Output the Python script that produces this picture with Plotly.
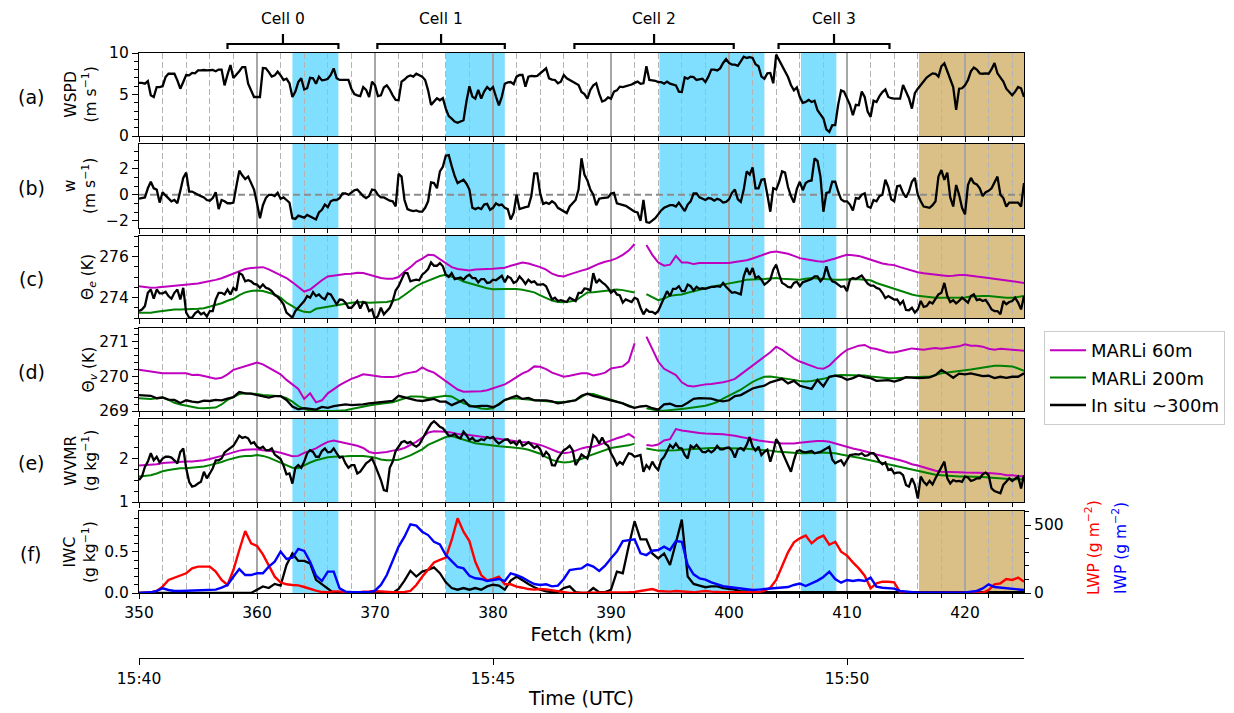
import numpy as np
import plotly.graph_objects as go

# ---------------------------------------------------------------------------
# Along-track sample positions (km): 0.25 km for the fast in-situ records,
# 0.5 km for the lidar retrievals and the remaining in-situ records
fetch_fine = np.round(np.arange(350.0, 425.001, 0.25), 2)
fetch = np.round(np.arange(350.0, 425.01, 0.5), 1)

# (a) horizontal wind speed, m s-1 (0.25 km)
wspd = [6.4, 6.4, 6.3, 6.6, 4.9, 4.7, 5.9, 5.9,
        6.0, 7.1, 7.5, 7.5, 7.5, 6.7, 5.7, 6.5,
        7.35, 7.3, 7.6, 7.55, 7.9, 7.9, 7.95, 7.9,
        7.9, 7.95, 7.8, 8.0, 8.0, 6.1, 7.4, 8.55,
        7.0, 7.35, 7.8, 8.3, 8.3, 6.3, 5.5, 4.7,
        4.7, 4.7, 8.2, 8.15, 7.7, 7.15, 7.3, 7.75,
        7.3, 6.75, 6.9, 6.35, 4.7, 5.35, 6.5, 6.95,
        5.6, 5.75, 7.0, 6.95, 6.3, 7.15, 6.7, 6.75,
        6.9, 7.35, 8.15, 6.95, 6.75, 6.75, 6.8, 6.75,
        5.7, 5.05, 4.9, 4.8, 5.9, 5.55, 4.7, 6.55,
        6.1, 4.8, 4.9, 5.85, 6.1, 5.6, 4.9, 4.35,
        4.3, 6.55, 6.8, 7.15, 7.3, 7.15, 7.5, 7.35,
        7.15, 6.75, 5.5, 3.75, 4.1, 4.55, 4.3, 4.55,
        3.3, 2.4, 2.1, 1.75, 1.6, 1.75, 1.9, 4.15,
        6.0, 4.75, 4.5, 5.55, 4.5, 5.35, 5.9, 5.55,
        5.9, 4.75, 3.7, 4.75, 6.3, 6.45, 6.5, 6.25,
        7.15, 7.35, 7.35, 5.95, 7.15, 7.25, 7.2, 7.25,
        7.55, 7.95, 8.15, 6.95, 6.8, 6.75, 6.35, 6.55,
        7.35, 6.95, 6.75, 6.55, 6.4, 6.15, 5.3, 5.05,
        4.5, 5.55, 6.1, 6.35, 5.1, 4.15, 4.3, 4.65,
        4.5, 5.35, 5.5, 5.95, 5.9, 6.0, 6.1, 6.2,
        6.4, 6.55, 6.3, 6.35, 8.4, 6.75, 6.7, 6.65,
        6.5, 6.5, 6.3, 6.55, 6.3, 6.2, 6.1, 5.35,
        5.3, 7.05, 6.9, 7.15, 7.1, 6.75, 6.8, 6.9,
        6.5, 7.15, 8.0, 8.0, 7.9, 8.15, 8.8, 9.25,
        8.8, 8.6, 8.6, 8.45, 9.0, 9.55, 9.4, 9.5,
        9.4, 8.65, 8.4, 7.15, 6.9, 7.55, 7.6, 6.35,
        9.8, 9.15, 8.4, 7.85, 7.1, 6.15, 5.5, 5.85,
        4.7, 4.0, 4.1, 4.35, 4.1, 4.25, 3.1, 2.6,
        2.1, 0.8, 0.5, 1.3, 1.3, 3.75, 5.5, 5.35,
        4.5, 3.75, 2.5, 3.75, 3.7, 5.35, 4.7, 2.95,
        2.3, 4.25, 4.1, 4.8, 5.3, 5.6, 4.7, 4.55,
        4.5, 4.5, 4.5, 6.15, 5.3, 4.55, 3.3, 5.15,
        5.7, 6.15, 6.7, 7.05, 7.3, 7.55, 7.5, 7.15,
        8.4, 8.75, 7.8, 6.75, 5.9, 3.15, 5.7, 5.75,
        6.1, 6.75, 7.8, 8.25, 8.0, 7.55, 7.5, 7.55,
        7.5, 8.05, 8.8, 7.55, 7.1, 6.55, 5.7, 5.35,
        4.9, 5.35, 5.9, 5.75, 4.7]

# (b) vertical velocity, m s-1 (0.25 km)
w_vert = [-0.3, -0.25, -0.2, 0.5, 1.0, 0.5, 0.4, -0.6,
          0.2, -0.05, -0.25, -0.5, -0.4, -0.65, 0.3, 1.3,
          1.7, 0.25, 0.25, 0.1, 0.0, -0.1, -0.2, -0.4,
          -0.45, -0.25, 0.2, -1.1, -0.4, -0.5, -0.65, -0.65,
          -0.6, 0.65, 1.85, 1.5, 1.2, 1.4, 0.9, 0.4,
          -0.65, -1.8, -0.8, -0.25, 0.0, 0.0, -0.1, 0.15,
          -0.3, -0.2, -0.4, -0.6, -1.8, -1.85, -1.6, -1.65,
          -1.75, -1.55, -1.65, -1.8, -1.9, -1.35, -1.15, -0.75,
          -0.95, -0.5, -0.4, -0.4, -0.25, 0.1, 0.1, 0.0,
          0.2, 0.35, 0.4, 0.15, -0.1, -0.25, -0.1, 0.4,
          0.35, 0.0, -0.2, -0.2, -0.35, -0.45, -0.5, -0.9,
          1.6, 1.4, -0.4, -1.1, -1.2, -1.25, -1.2, -1.3,
          -1.3, -1.0, -0.5, 0.95, 0.9, 0.5, 1.8, 2.15,
          3.0, 3.05, 2.2, 1.45, 0.9, 1.0, 1.15, 0.85,
          0.4, -1.0, -1.1, -1.0, -1.1, -0.75, -0.7, -1.15,
          -1.0, -0.65, -0.8, -0.75, -1.0, -1.1, -1.9, -1.4,
          0.0, -1.1, -1.0, -0.95, -0.9, -0.1, 1.65, 1.65,
          0.1, -0.7, -0.6, -0.7, -0.5, -0.65, -1.0, -1.15,
          -1.3, -1.4, -0.9, -0.65, -0.4, 0.4, 2.8, 1.55,
          1.1, 0.4, 0.0, -0.8, -0.3, -0.25, -0.25, -0.2,
          0.1, 0.15, -0.65, -0.7, -0.8, -0.85, -1.0, -1.15,
          -1.3, -1.35, -2.0, -0.4, -2.1, -2.15, -2.0, -1.8,
          -1.5, -1.2, -1.0, -0.9, -0.8, -0.8, -0.9, -0.6,
          -0.9, -1.25, -0.75, -0.5, 0.1, 0.1, -0.2, -0.3,
          -0.4, -0.25, -0.3, -0.45, -0.3, -0.4, -0.6, -0.55,
          -0.35, 0.15, 0.4, -0.35, -0.55, 0.4, 1.8, 1.55,
          2.1, 0.5, 0.5, 1.15, 1.2, 0.0, -1.3, 0.5,
          0.4, 1.0, 1.8, 1.7, 0.6, -0.1, -0.6, 0.45,
          1.0, 0.35, 0.9, 1.05, 1.1, 2.8, 2.6, 1.4,
          -1.3, 0.15, 0.2, 1.0, 1.0, 0.25, -0.35, -0.5,
          -0.5, -0.75, -1.2, -0.25, -0.3, 0.0, 0.1, -0.9,
          -1.0, -0.4, -0.5, -0.1, 0.0, 1.15, 0.6, -0.35,
          -0.5, 0.65, 0.7, 0.15, -0.2, 0.25, 1.0, 1.3,
          0.0, -0.5, -0.9, -0.95, -1.0, -0.8, -0.5, 1.4,
          1.9, 1.15, 1.7, -0.2, -0.9, 0.75, 0.0, -1.0,
          -1.5, 0.75, 1.3, 0.9, 0.8, 0.5, -0.1, 0.2,
          0.3, 0.5, 1.0, 1.4, 0.0, -0.25, -0.9, -0.6,
          -0.6, -0.6, -0.6, -0.9, 0.9]

# (c) equivalent potential temperature, K
theta_e_60 = [274.55, 274.50, 274.47, 274.49, 274.52, 274.53, 274.57, 274.58, 274.62, 274.65,
              274.68, 274.74, 274.79, 274.86, 274.94, 275.05, 275.18, 275.29, 275.39, 275.44,
              275.47, 275.48, 275.37, 275.24, 275.11, 274.95, 274.74, 274.52, 274.29, 274.39,
              274.63, 274.84, 275.03, 275.08, 275.11, 275.15, 275.16, 275.21, 275.19, 275.10,
              275.03, 274.95, 274.92, 274.92, 275.00, 275.27, 275.48, 275.74, 275.90, 276.08,
              276.06, 275.87, 275.68, 275.48, 275.39, 275.34, 275.32, 275.36, 275.36, 275.39,
              275.40, 275.42, 275.45, 275.55, 275.63, 275.71, 275.66, 275.58, 275.48, 275.36,
              275.16, 275.06, 275.03, 275.13, 275.23, 275.31, 275.39, 275.52, 275.65, 275.74,
              275.81, 275.92, 276.08, 276.29, 276.61, None, 276.56, 276.08, 275.71, 275.55,
              275.60, 276.03, 275.71, 275.71, 275.63, 275.68, 275.68, 275.68, 275.68, 275.71,
              275.68, 275.73, 275.77, 275.82, 275.90, 276.00, 276.11, 276.21, 276.24, 276.19,
              276.13, 276.03, 275.92, 275.87, 275.81, 275.77, 275.74, 275.81, 275.90, 276.00,
              276.08, 276.06, 276.03, 275.94, 275.84, 275.73, 275.66, 275.61, 275.58, 275.48,
              275.39, 275.29, 275.23, 275.18, 275.15, 275.11, 275.08, 275.05, 275.06, 275.10,
              275.10, 275.05, 275.02, 274.99, 274.95, 274.90, 274.87, 274.82, 274.78, 274.74,
              274.71]
theta_e_200 = [273.26, 273.26, 273.26, 273.30, 273.34, 273.38, 273.42, 273.42, 273.42, 273.43,
               273.45, 273.48, 273.55, 273.63, 273.72, 273.84, 273.94, 274.12, 274.25, 274.32,
               274.34, 274.32, 274.23, 274.15, 274.00, 273.75, 273.58, 273.40, 273.30, 273.28,
               273.45, 273.50, 273.55, 273.60, 273.66, 273.71, 273.74, 273.77, 273.78, 273.75,
               273.75, 273.76, 273.78, 273.84, 273.92, 274.12, 274.35, 274.55, 274.70, 274.82,
               274.95, 275.05, 275.11, 275.02, 274.92, 274.78, 274.70, 274.60, 274.52, 274.45,
               274.40, 274.39, 274.41, 274.42, 274.42, 274.38, 274.33, 274.25, 274.10, 273.98,
               273.85, 273.78, 273.77, 273.80, 273.85, 274.05, 274.25, 274.26, 274.29, 274.33,
               274.37, 274.39, 274.36, 274.31, 274.24, None, 274.16, 274.00, 273.87, 273.95,
               274.08, 274.12, 274.15, 274.23, 274.31, 274.37, 274.44, 274.52, 274.58, 274.63,
               274.68, 274.74, 274.79, 274.87, 274.87, 274.87, 274.90, 274.93, 274.95, 274.92,
               274.90, 274.89, 274.87, 274.92, 274.95, 274.93, 274.90, 274.89, 274.87, 274.87,
               274.90, 274.90, 274.89, 274.87, 274.84, 274.71, 274.61, 274.53, 274.45, 274.34,
               274.24, 274.15, 274.08, 274.04, 274.00, 273.99, 273.99, 273.99, 273.99, 273.99,
               274.00, 274.05, 274.07, 274.07, 274.07, 274.04, 274.00, 273.99, 273.99, 274.02,
               274.07]
# in situ (0.25 km)
theta_e_insitu = [273.34, 273.41, 273.58, 274.23, 274.39, 273.94, 274.39, 274.2,
                  274.2, 274.28, 274.07, 273.94, 274.23, 274.39, 273.9, 274.47,
                  273.26, 273.02, 273.02, 273.23, 273.34, 273.18, 273.26, 273.07,
                  273.34, 273.34, 273.9, 274.23, 274.23, 274.15, 274.39, 274.15,
                  274.47, 274.34, 275.19, 275.11, 274.79, 274.84, 274.79, 274.66,
                  274.63, 274.47, 274.63, 274.47, 274.42, 274.31, 274.12, 274.03,
                  273.87, 273.67, 273.26, 273.13, 273.02, 273.34, 273.5, 273.62,
                  273.83, 274.07, 273.99, 274.26, 274.07, 274.15, 273.99, 273.91,
                  274.2, 274.15, 273.9, 273.67, 273.9, 273.88, 273.75, 273.5,
                  273.5, 273.67, 273.83, 273.46, 273.78, 273.71, 273.34, 273.42,
                  272.94, 273.1, 273.5, 273.18, 273.34, 273.5, 273.83, 274.34,
                  274.55, 274.87, 275.19, 275.19, 274.79, 274.84, 274.87, 274.84,
                  275.11, 275.23, 275.39, 275.71, 275.55, 275.55, 275.68, 275.52,
                  275.11, 275.0, 275.19, 274.9, 274.95, 274.97, 274.87, 275.03,
                  275.11, 274.95, 274.95, 274.74, 274.9, 274.9, 274.71, 274.74,
                  274.87, 274.84, 274.95, 275.06, 274.74, 275.03, 274.95, 274.71,
                  274.79, 275.03, 274.87, 274.66, 274.87, 274.74, 274.79, 274.63,
                  274.63, 274.65, 274.55, 274.23, 273.9, 273.99, 273.83, 273.87,
                  273.83, 273.78, 273.99, 273.91, 273.83, 274.23, 274.23, 274.44,
                  274.42, 274.34, 275.19, 274.71, 274.87, 274.74, 274.63, 274.47,
                  274.23, 274.36, 274.15, 274.1, 273.75, 273.91, 273.83, 273.78,
                  273.99, 273.91, 273.5, 273.18, 273.42, 273.3, 273.3, 273.21,
                  273.34, 273.67, 273.99, 274.31, 274.07, 274.42, 274.42, 274.55,
                  274.31, 274.31, 274.63, 274.55, 274.34, 274.52, 274.42, 274.45,
                  274.42, 274.47, 274.52, 274.52, 274.55, 274.52, 274.71, 274.52,
                  274.39, 274.23, 274.26, 274.2, 274.15, 275.03, 275.44, 275.11,
                  275.44, 274.95, 275.03, 274.87, 274.63, 274.74, 274.87, 275.36,
                  275.6, 275.11, 274.71, 274.63, 274.52, 274.49, 274.71, 274.77,
                  274.55, 274.74, 274.79, 274.87, 274.9, 275.03, 275.03, 274.79,
                  274.95, 275.52, 275.03, 274.79, 274.74, 274.63, 274.52, 274.55,
                  274.31, 274.87, 274.95, 274.9, 275.0, 275.07, 274.87, 274.68,
                  274.58, 274.58, 274.47, 274.42, 274.23, 273.97, 274.07, 273.99,
                  273.9, 273.91, 273.67, 273.83, 273.39, 273.38, 273.5, 273.26,
                  273.42, 273.83, 273.54, 273.58, 273.78, 273.71, 273.9, 274.15,
                  274.23, 274.71, 274.07, 273.78, 273.87, 273.71, 273.83, 273.99,
                  273.87, 273.75, 274.07, 274.15, 273.87, 273.91, 273.83, 273.88,
                  273.67, 273.42, 273.34, 273.34, 273.18, 273.83, 273.67, 273.78,
                  273.83, 273.99, 273.75, 273.42, 274.07]

# (d) virtual potential temperature, K
theta_v_60 = [270.19, 270.16, 270.14, 270.12, 270.09, 270.09, 270.09, 270.10, 270.09, 270.04,
              270.05, 270.01, 269.98, 269.93, 269.96, 270.06, 270.19, 270.24, 270.30, 270.33,
              270.40, 270.35, 270.26, 270.16, 270.06, 269.90, 269.77, 269.64, 269.35, 269.51,
              269.25, 269.31, 269.51, 269.64, 269.75, 269.84, 269.93, 269.99, 270.06, 270.04,
              270.01, 269.99, 269.98, 269.98, 270.01, 270.08, 270.11, 270.14, 270.26, 270.17,
              270.11, 269.99, 269.85, 269.73, 269.62, 269.56, 269.56, 269.56, 269.57, 269.60,
              269.66, 269.70, 269.77, 269.87, 269.99, 270.09, 270.16, 270.29, 270.28, 270.21,
              270.11, 270.04, 269.99, 270.02, 270.06, 270.09, 270.09, 270.03, 270.06, 270.11,
              270.23, 270.25, 270.29, 270.43, 270.96, None, 271.15, 270.77, 270.43, 270.22,
              270.12, 270.04, 269.83, 269.73, 269.71, 269.75, 269.77, 269.78, 269.80, 269.83,
              269.87, 269.93, 270.06, 270.19, 270.31, 270.45, 270.57, 270.70, 270.86, 270.77,
              270.64, 270.52, 270.43, 270.36, 270.30, 270.24, 270.22, 270.31, 270.48, 270.64,
              270.77, 270.82, 270.89, 270.91, 270.82, 270.79, 270.75, 270.69, 270.69, 270.74,
              270.77, 270.81, 270.80, 270.77, 270.80, 270.82, 270.80, 270.82, 270.84, 270.87,
              270.93, 270.89, 270.89, 270.86, 270.80, 270.77, 270.80, 270.79, 270.77, 270.76,
              270.74]
theta_v_200 = [269.37, 269.36, 269.35, 269.37, 269.39, 269.32, 269.24, 269.19, 269.15, 269.12,
               269.09, 269.08, 269.08, 269.10, 269.19, 269.32, 269.40, 269.49, 269.51, 269.51,
               269.49, 269.46, 269.45, 269.44, 269.43, 269.37, 269.27, 269.14, 269.06, 269.01,
               269.00, 269.00, 269.00, 269.00, 269.00, 269.02, 269.06, 269.10, 269.13, 269.16,
               269.19, 269.21, 269.22, 269.25, 269.31, 269.37, 269.42, 269.42, 269.41, 269.37,
               269.39, 269.42, 269.44, 269.42, 269.32, 269.22, 269.17, 269.12, 269.07, 269.06,
               269.08, 269.21, 269.32, 269.36, 269.37, 269.35, 269.33, 269.31, 269.30, 269.28,
               269.27, 269.26, 269.25, 269.28, 269.31, 269.41, 269.50, 269.49, 269.44, 269.39,
               269.33, 269.29, 269.22, 269.16, 269.09, None, 269.08, 269.04, 269.01, 269.01,
               269.02, 269.04, 269.06, 269.08, 269.10, 269.13, 269.15, 269.20, 269.26, 269.36,
               269.44, 269.54, 269.62, 269.73, 269.84, 269.92, 269.99, 270.00, 269.98, 269.95,
               269.92, 269.90, 269.87, 269.85, 269.87, 269.89, 269.93, 269.98, 270.03, 270.04,
               270.04, 270.04, 270.04, 270.03, 270.00, 269.98, 269.96, 269.95, 269.95, 269.96,
               269.98, 269.98, 269.99, 269.99, 269.99, 270.04, 270.09, 270.11, 270.14, 270.16,
               270.18, 270.20, 270.23, 270.25, 270.28, 270.31, 270.31, 270.31, 270.29, 270.23,
               270.16]
theta_v_insitu = [269.46, 269.46, 269.44, 269.37, 269.39, 269.33, 269.32, 269.23, 269.31, 269.27,
                  269.25, 269.30, 269.29, 269.32, 269.31, 269.36, 269.40, 269.55, 269.51, 269.50,
                  269.46, 269.42, 269.39, 269.43, 269.43, 269.32, 269.13, 269.05, 269.08, 269.06,
                  269.04, 269.12, 269.09, 269.14, 269.17, 269.19, 269.17, 269.17, 269.19, 269.22,
                  269.24, 269.25, 269.26, 269.29, 269.44, 269.39, 269.35, 269.31, 269.29, 269.32,
                  269.35, 269.27, 269.27, 269.17, 269.25, 269.32, 269.14, 269.13, 269.15, 269.15,
                  269.11, 269.19, 269.32, 269.39, 269.44, 269.35, 269.38, 269.31, 269.31, 269.31,
                  269.28, 269.22, 269.25, 269.27, 269.31, 269.44, 269.50, 269.44, 269.40, 269.36,
                  269.30, 269.26, 269.22, 269.14, 269.09, 269.13, 269.15, 269.08, 269.04, 269.19,
                  269.21, 269.14, 269.14, 269.24, 269.35, 269.37, 269.37, 269.36, 269.31, 269.28,
                  269.31, 269.43, 269.46, 269.56, 269.65, 269.70, 269.73, 269.83, 269.88, 269.93,
                  269.80, 269.87, 269.73, 269.68, 269.64, 269.90, 269.71, 269.99, 270.02, 269.99,
                  269.90, 269.95, 270.03, 269.98, 269.95, 269.87, 269.87, 269.89, 269.85, 269.90,
                  269.98, 269.96, 269.95, 269.96, 269.97, 270.04, 270.19, 270.08, 269.96, 270.08,
                  270.06, 270.09, 270.04, 270.01, 270.02, 269.95, 269.99, 269.96, 269.99, 269.99,
                  270.09]

# (e) water vapour mixing ratio, g kg-1
wvmr_60 = [1.83, 1.84, 1.86, 1.86, 1.89, 1.90, 1.91, 1.92, 1.92, 1.92,
           1.93, 1.95, 1.98, 2.01, 2.05, 2.09, 2.13, 2.17, 2.19, 2.20,
           2.20, 2.18, 2.17, 2.15, 2.12, 2.08, 2.04, 2.05, 2.12, 2.17,
           2.22, 2.30, 2.37, 2.40, 2.37, 2.34, 2.31, 2.28, 2.23, 2.14,
           2.11, 2.12, 2.14, 2.17, 2.19, 2.23, 2.30, 2.37, 2.47, 2.58,
           2.61, 2.61, 2.60, 2.58, 2.55, 2.54, 2.52, 2.51, 2.49, 2.47,
           2.45, 2.44, 2.42, 2.40, 2.37, 2.36, 2.36, 2.33, 2.30, 2.25,
           2.20, 2.14, 2.11, 2.13, 2.17, 2.22, 2.25, 2.26, 2.30, 2.35,
           2.41, 2.45, 2.49, 2.55, 2.46, None, 2.30, 2.28, 2.31, 2.40,
           2.43, 2.66, 2.63, 2.61, 2.58, 2.57, 2.56, 2.56, 2.55, 2.54,
           2.53, 2.51, 2.48, 2.46, 2.43, 2.40, 2.38, 2.36, 2.34, 2.33,
           2.33, 2.33, 2.35, 2.37, 2.38, 2.39, 2.39, 2.37, 2.33, 2.30,
           2.26, 2.22, 2.19, 2.16, 2.12, 2.08, 2.05, 2.02, 1.98, 1.95,
           1.91, 1.86, 1.83, 1.79, 1.75, 1.71, 1.69, 1.69, 1.69, 1.68,
           1.67, 1.67, 1.67, 1.67, 1.66, 1.65, 1.64, 1.61, 1.61, 1.59,
           1.58]
wvmr_200 = [1.58, 1.59, 1.61, 1.65, 1.70, 1.73, 1.75, 1.77, 1.77, 1.78,
            1.79, 1.81, 1.84, 1.87, 1.91, 1.96, 2.00, 2.03, 2.05, 2.05,
            2.07, 2.05, 2.01, 1.95, 1.89, 1.83, 1.78, 1.77, 1.84, 1.90,
            1.95, 1.99, 2.02, 2.03, 2.03, 2.04, 2.05, 2.05, 2.05, 2.03,
            2.01, 1.97, 1.95, 1.95, 1.96, 2.01, 2.06, 2.13, 2.20, 2.30,
            2.36, 2.43, 2.48, 2.50, 2.46, 2.41, 2.37, 2.34, 2.32, 2.30,
            2.28, 2.27, 2.26, 2.25, 2.23, 2.22, 2.19, 2.15, 2.10, 2.02,
            1.96, 1.92, 1.90, 1.91, 1.94, 1.98, 2.04, 2.09, 2.14, 2.19,
            2.23, 2.25, 2.27, 2.29, 2.33, None, 2.22, 2.19, 2.17, 2.17,
            2.17, 2.18, 2.19, 2.20, 2.21, 2.22, 2.23, 2.23, 2.23, 2.23,
            2.22, 2.22, 2.22, 2.21, 2.20, 2.20, 2.18, 2.17, 2.15, 2.14,
            2.12, 2.11, 2.11, 2.11, 2.11, 2.12, 2.13, 2.12, 2.11, 2.08,
            2.05, 2.03, 2.01, 1.98, 1.95, 1.91, 1.88, 1.85, 1.83, 1.80,
            1.77, 1.73, 1.70, 1.67, 1.64, 1.62, 1.61, 1.60, 1.58, 1.58,
            1.58, 1.58, 1.58, 1.57, 1.56, 1.55, 1.54, 1.52, 1.52, 1.52,
            1.52]
# in situ (0.25 km)
wvmr_insitu = [1.50, 1.58, 1.80, 1.92, 2.11, 1.95, 2.03, 1.90,
               1.99, 2.03, 2.03, 2.01, 1.95, 1.88, 2.14, 2.22,
               1.77, 1.46, 1.35, 1.37, 1.42, 1.46, 1.69, 1.54,
               1.65, 1.77, 1.95, 1.95, 1.99, 2.13, 2.18, 2.22,
               2.28, 2.39, 2.51, 2.46, 2.48, 2.45, 2.33, 2.36,
               2.26, 2.22, 2.26, 2.18, 2.18, 2.22, 2.08, 2.03,
               1.98, 1.83, 1.63, 1.65, 1.42, 1.78, 1.84, 1.78,
               1.92, 2.11, 2.18, 2.14, 2.03, 2.03, 2.16, 2.22,
               2.13, 2.14, 2.22, 2.11, 2.01, 2.03, 1.88, 1.78,
               1.84, 1.84, 1.65, 1.69, 1.80, 1.88, 1.93, 1.99,
               1.84, 1.67, 1.50, 1.27, 1.25, 1.78, 1.92, 2.16,
               2.25, 2.36, 2.39, 2.34, 2.37, 2.30, 2.26, 2.31,
               2.43, 2.56, 2.67, 2.78, 2.84, 2.78, 2.71, 2.68,
               2.60, 2.51, 2.51, 2.55, 2.48, 2.45, 2.60, 2.52,
               2.41, 2.46, 2.39, 2.39, 2.43, 2.41, 2.48, 2.45,
               2.48, 2.39, 2.33, 2.37, 2.42, 2.43, 2.34, 2.37,
               2.30, 2.41, 2.28, 2.31, 2.36, 2.30, 2.23, 2.28,
               2.20, 2.03, 2.14, 2.07, 1.84, 1.83, 1.99, 2.09,
               2.18, 2.22, 2.28, 2.18, 1.84, 1.95, 2.08, 2.03,
               1.99, 2.22, 2.52, 2.46, 2.33, 2.47, 2.33, 2.28,
               2.11, 1.99, 1.84, 1.91, 1.86, 1.99, 2.11, 2.09,
               2.03, 2.05, 2.07, 1.69, 1.84, 1.76, 1.92, 1.80,
               1.73, 1.95, 2.03, 2.16, 2.30, 2.23, 2.33, 2.23,
               2.22, 2.07, 1.99, 2.28, 2.23, 2.30, 2.22, 2.14,
               2.13, 2.18, 2.13, 2.18, 2.28, 2.20, 2.20, 2.23,
               2.24, 2.17, 2.01, 2.20, 2.23, 2.18, 2.30, 2.48,
               2.26, 2.17, 2.26, 2.07, 2.14, 2.19, 1.92, 2.14,
               2.43, 2.33, 2.14, 1.99, 1.84, 1.69, 1.95, 2.16,
               2.18, 2.14, 2.13, 2.14, 2.16, 2.11, 2.13, 2.14,
               2.18, 2.23, 2.26, 1.97, 1.88, 1.92, 1.95, 1.84,
               1.95, 2.07, 2.08, 2.09, 2.08, 2.11, 2.05, 2.06,
               2.11, 2.11, 2.03, 1.92, 1.86, 1.90, 1.73, 1.76,
               1.65, 1.67, 1.67, 1.61, 1.39, 1.35, 1.54, 1.39,
               1.08, 1.58, 1.46, 1.39, 1.48, 1.40, 1.54, 1.67,
               1.77, 1.92, 1.54, 1.42, 1.50, 1.47, 1.48, 1.46,
               1.58, 1.56, 1.48, 1.50, 1.54, 1.54, 1.63, 1.67,
               1.61, 1.31, 1.25, 1.23, 1.20, 1.39, 1.46, 1.54,
               1.48, 1.54, 1.58, 1.31, 1.61]

# (f) in-situ ice water content (g kg-1) and remote liquid / ice water paths (g m-2)
iwc_insitu = [0, 0, 0, 0, 0, 0, 0, 0, 0, 0,
              0, 0, 0, 0, 0, 0, 0, 0, 0, 0,
              0.04, 0.08, 0.06, 0.11, 0.09, 0.34, 0.48, 0.39, 0.39, 0.36,
              0.16, 0.11, 0.05, 0, 0, 0, 0, 0, 0, 0,
              0, 0, 0, 0, 0.05, 0.15, 0.27, 0.20, 0.26, 0.28,
              0.31, 0.24, 0.13, 0.06, 0.04, 0.06, 0.04, 0.06, 0.04, 0.08,
              0.10, 0.09, 0.04, 0.15, 0.20, 0.15, 0.11, 0.07, 0.04, 0.02,
              0.01, 0.01, 0.06, 0.08, 0.01, 0, 0, 0.06, 0.01, 0.01,
              0.04, 0.26, 0.24, 0.57, 0.87, 0.65, 0.65, 0.48, 0.42, 0.48,
              0.34, 0.61, 0.89, 0.20, 0.11, 0.09, 0.07, 0.08, 0.08, 0.06,
              0.05, 0.04, 0.02, 0.02, 0.01, 0.01, 0.01, 0.01, 0.01, 0.01,
              0.01, 0.01, 0.01, 0.01, 0.01, 0.01, 0.01, 0.01, 0.01, 0.01,
              0.01, 0.01, 0.01, 0.01, 0.01, 0.01, 0.01, 0.01, 0.01, 0.01,
              0.01, 0.01, 0.01, 0.01, 0.01, 0.01, 0.01, 0.01, 0.01, 0.01,
              0.01, 0.01, 0.01, 0.01, 0.01, 0.01, 0.01, 0.01, 0.01, 0.01,
              0.01]
lwp = [0, 0, 5, 15, 47, 96, 113, 127, 145, 181,
       194, 194, 194, 157, 96, 59, 169, 316, 456, 365,
       346, 284, 206, 120, 78, 64, 59, 56, 44, 29,
       17, 7, 5, 12, 12, 5, 0, 2, 10, 12,
       15, 12, 7, 5, 5, 7, 15, 59, 120, 169,
       225, 243, 260, 390, 549, 451, 382, 230, 132, 93,
       103, 120, 64, 64, 47, 39, 29, 25, 29, 27,
       20, 10, 5, 0, 0, 0, 0, 2, 2, 5,
       5, 5, 5, 5, 7, 15, 25, 29, 15, 12,
       10, 15, 12, 7, 5, 10, 15, 10, 5, 5,
       5, 5, 2, 2, 5, 5, 17, 39, 96, 194,
       299, 373, 402, 422, 365, 402, 422, 355, 377, 304,
       275, 225, 181, 127, 34, 71, 83, 83, 78, 5,
       2, 0, 0, 0, 0, 0, 0, 0, 0, 0,
       0, 0, 0, 2, 22, 64, 71, 103, 96, 113,
       83]
iwp = [0, 2, 5, 15, 34, 22, 15, 15, 17, 20,
       22, 22, 25, 25, 39, 59, 120, 176, 132, 132,
       145, 145, 194, 230, 304, 250, 260, 324, 309, 230,
       127, 88, 157, 157, 34, 10, 7, 5, 5, 5,
       17, 59, 132, 230, 341, 414, 505, 495, 451, 426,
       377, 358, 279, 235, 191, 181, 127, 108, 103, 88,
       93, 103, 88, 145, 132, 113, 88, 66, 59, 64,
       49, 54, 103, 169, 176, 181, 211, 194, 162, 201,
       255, 304, 382, 390, 395, 292, 279, 311, 316, 341,
       316, 382, 377, 206, 137, 108, 98, 78, 64, 51,
       44, 39, 34, 29, 22, 25, 29, 32, 34, 39,
       44, 59, 69, 51, 71, 91, 118, 157, 103, 76,
       96, 88, 96, 88, 113, 47, 39, 34, 32, 15,
       10, 5, 2, 2, 2, 2, 2, 2, 2, 2,
       2, 10, 15, 34, 64, 44, 39, 34, 29, 22,
       22]

# Cloud cells (start, end in km), sampled cloud segments and the clear reference leg
cell_names = ["Cell 0", "Cell 1", "Cell 2", "Cell 3"]
cell_start = [357.5, 370.2, 386.9, 404.2]
cell_end = [366.9, 381.0, 400.4, 413.6]
cloud_start = [363.0, 376.0, 394.1, 406.1]
cloud_end = [366.9, 381.0, 403.0, 409.1]
clear_start, clear_end = 416.1, 425.0

# Secondary time axis (UTC) labelled at the matching fetch
time_tick_km = [350, 380, 410]
time_tick_text = ["15:40", "15:45", "15:50"]

# ---------------------------------------------------------------------------
W, H = 1234, 713
FONT = "DejaVu Sans"
MAG, GRN, BLK = "#bf00bf", "#008000", "black"
CLOUD_FILL = "rgb(128,223,255)"
CLEAR_FILL = "rgb(218,192,134)"


def px_x(p):
    return p / W


def px_y(p):
    return 1 - p / H


x_dom = [px_x(139), px_x(1024)]
panels = [(53, 136), (144, 228), (236, 318), (328, 411), (419, 502), (511, 593)]

fig = go.Figure()


def line(x, y, color, n, width=2.2, name=None, legend=False, yaxis=None, dash=None):
    fig.add_trace(go.Scatter(
        x=x, y=y, mode="lines", name=name, showlegend=legend,
        legendgroup=name if legend else None,
        line=dict(color=color, width=width, dash=dash),
        xaxis="x" if n == 1 else f"x{n}",
        yaxis=yaxis or ("y" if n == 1 else f"y{n}"),
        connectgaps=False, hoverinfo="skip"))


line(fetch_fine, wspd, BLK, 1, 2.3)
# dashed zero reference for vertical velocity, drawn under the data
line([fetch[0], fetch[-1]], [0, 0], "#8c8c8c", 2, 2.0, dash="7px,4px")
line(fetch_fine, w_vert, BLK, 2, 2.3)
line(fetch, theta_e_60, MAG, 3, 2.0, "MARLi 60m", True)
line(fetch, theta_e_200, GRN, 3, 2.0, "MARLi 200m", True)
line(fetch_fine, theta_e_insitu, BLK, 3, 2.3, "In situ ~300m", True)
line(fetch, theta_v_60, MAG, 4, 2.0)
line(fetch, theta_v_200, GRN, 4, 2.0)
line(fetch, theta_v_insitu, BLK, 4, 2.3)
line(fetch, wvmr_60, MAG, 5, 2.0)
line(fetch, wvmr_200, GRN, 5, 2.0)
line(fetch_fine, wvmr_insitu, BLK, 5, 2.3)
line(fetch, iwc_insitu, BLK, 6, 2.3)
line(fetch, lwp, "red", 6, 2.4, yaxis="y7")
line(fetch, iwp, "blue", 6, 2.4, yaxis="y7")

# empty trace that carries the UTC time axis
fig.add_trace(go.Scatter(x=[time_tick_km[0]], y=[None], xaxis="x7", yaxis="y6",
                         showlegend=False, hoverinfo="skip"))

y_specs = [
    dict(range=[0, 10], dtick=5, tick0=0, minor=1, fmt=None),
    dict(range=[-2.55, 3.9], dtick=2, tick0=0, minor=2 / 3, fmt=None),
    dict(range=[273, 277], dtick=2, tick0=274, minor=0.5, fmt=None),
    dict(range=[269, 271.4], dtick=1, tick0=269, minor=0.2, fmt=None),
    dict(range=[1, 2.89], dtick=1, tick0=1, minor=0.25, fmt=None),
    dict(range=[0, 0.995], dtick=0.5, tick0=0, minor=0.1, fmt=".1f"),
]
y_titles = ["WSPD<br>(m s<sup>−1</sup>)", "w<br>(m s<sup>−1</sup>)",
            "Θ<sub><i>e</i></sub> (K)", "Θ<sub><i>v</i></sub> (K)",
            "WVMR<br>(g kg<sup>−1</sup>)", "IWC<br>(g kg<sup>−1</sup>)"]
tags = ["(a)", "(b)", "(c)", "(d)", "(e)", "(f)"]

layout = dict(
    width=W, height=H, margin=dict(l=0, r=0, t=0, b=0, autoexpand=False),
    paper_bgcolor="white", plot_bgcolor="white",
    font=dict(family=FONT, size=15.5, color="black"),
    showlegend=True,
    legend=dict(x=px_x(1044), y=px_y(331), xanchor="left", yanchor="top",
                bordercolor="#cccccc", borderwidth=1, bgcolor="white",
                font=dict(size=18), tracegroupgap=1, itemwidth=36),
)

shapes, annotations = [], []
for i, (top, bot) in enumerate(panels):
    n = i + 1
    xs = "" if n == 1 else str(n)
    spec = y_specs[i]
    layout[f"xaxis{xs}"] = dict(
        domain=x_dom, range=[350, 425], anchor=f"y{xs}",
        showline=True, mirror=True, linecolor="black", linewidth=1.2,
        ticks="outside", ticklen=5, tickwidth=1.2, tickcolor="black",
        dtick=10, tick0=350, showticklabels=(n == 6),
        showgrid=True, gridcolor="#a6a6a6", gridwidth=1.6, zeroline=False,
        minor=dict(dtick=2, tick0=350, ticks="outside", ticklen=4, tickcolor="black",
                   showgrid=True, gridcolor="#b4b4b4", gridwidth=1.2, griddash="6px,3px"),
        title=dict(text="Fetch (km)", standoff=6) if n == 6 else None,
    )
    layout[f"yaxis{xs}"] = dict(
        domain=[px_y(bot), px_y(top)], range=spec["range"], anchor=f"x{xs}",
        showline=True, mirror=True, linecolor="black", linewidth=1.2,
        ticks="outside", ticklen=6, tickwidth=1.2, tickcolor="black",
        dtick=spec["dtick"], tick0=spec["tick0"], tickformat=spec["fmt"],
        minor=dict(dtick=spec["minor"], tick0=spec["tick0"], ticks="outside",
                   ticklen=3.5, tickcolor="black"),
        showgrid=False, zeroline=False,
    )
    for a, b in zip(cloud_start, cloud_end):
        shapes.append(dict(type="rect", xref=f"x{xs}", yref=f"y{xs} domain",
                           x0=a, x1=b, y0=0, y1=1, fillcolor=CLOUD_FILL,
                           line=dict(width=0), layer="below"))
    shapes.append(dict(type="rect", xref=f"x{xs}", yref=f"y{xs} domain",
                       x0=clear_start, x1=clear_end, y0=0, y1=1,
                       fillcolor=CLEAR_FILL, line=dict(width=0), layer="below"))
    yc = px_y((top + bot) / 2)
    annotations.append(dict(text=tags[i], x=px_x(31), y=px_y((top + bot) / 2 + 2),
                            xref="paper", yref="paper", showarrow=False,
                            font=dict(size=19), xanchor="center", yanchor="middle"))
    annotations.append(dict(text=y_titles[i], x=px_x(101), y=yc, xref="paper", yref="paper",
                            showarrow=False, textangle=-90, xanchor="right",
                            yanchor="middle", font=dict(size=15.5)))

# right-hand axis for the water paths
layout["yaxis7"] = dict(
    overlaying="y6", side="right", anchor="x6", range=[0, 603],
    dtick=500, tick0=0, ticks="outside", ticklen=6, tickwidth=1.2, tickcolor="black",
    minor=dict(dtick=100, tick0=0, ticks="outside", ticklen=3.5, tickcolor="black"),
    showline=False, showgrid=False, zeroline=False,
)
annotations.append(dict(text="LWP (g m<sup>−2</sup>)", x=px_x(1092), y=px_y(548),
                        xref="paper", yref="paper", showarrow=False, textangle=-90,
                        font=dict(size=15.5, color="red"), xanchor="center", yanchor="middle"))
annotations.append(dict(text="IWP (g m<sup>−2</sup>)", x=px_x(1119), y=px_y(548),
                        xref="paper", yref="paper", showarrow=False, textangle=-90,
                        font=dict(size=15.5, color="blue"), xanchor="center", yanchor="middle"))

# UTC time axis below the fetch axis
layout["xaxis7"] = dict(
    overlaying="x6", anchor="free", position=px_y(658), side="bottom",
    range=[350, 425], tickmode="array", tickvals=time_tick_km, ticktext=time_tick_text,
    showline=True, linecolor="black", linewidth=1.2,
    ticks="outside", ticklen=6, tickwidth=1.2, tickcolor="black",
    showgrid=False, zeroline=False,
    title=dict(text="Time (UTC)", standoff=4),
)

# brackets marking each cloud cell
y_hook, y_bar, y_stem = px_y(49), px_y(44), px_y(34)
for name, a, b in zip(cell_names, cell_start, cell_end):
    c = 0.5 * (a + b)
    shapes.append(dict(type="path", xref="x", yref="paper",
                       path=f"M {a},{y_hook} L {a},{y_bar} L {b},{y_bar} L {b},{y_hook} "
                            f"M {c},{y_bar} L {c},{y_stem}",
                       line=dict(color="black", width=2.2)))
    annotations.append(dict(text=name, x=c, y=px_y(19), xref="x", yref="paper",
                            showarrow=False, font=dict(size=15.5),
                            xanchor="center", yanchor="middle"))

layout["shapes"] = shapes
layout["annotations"] = annotations
fig.update_layout(**layout)

fig.write_html("out.html")
